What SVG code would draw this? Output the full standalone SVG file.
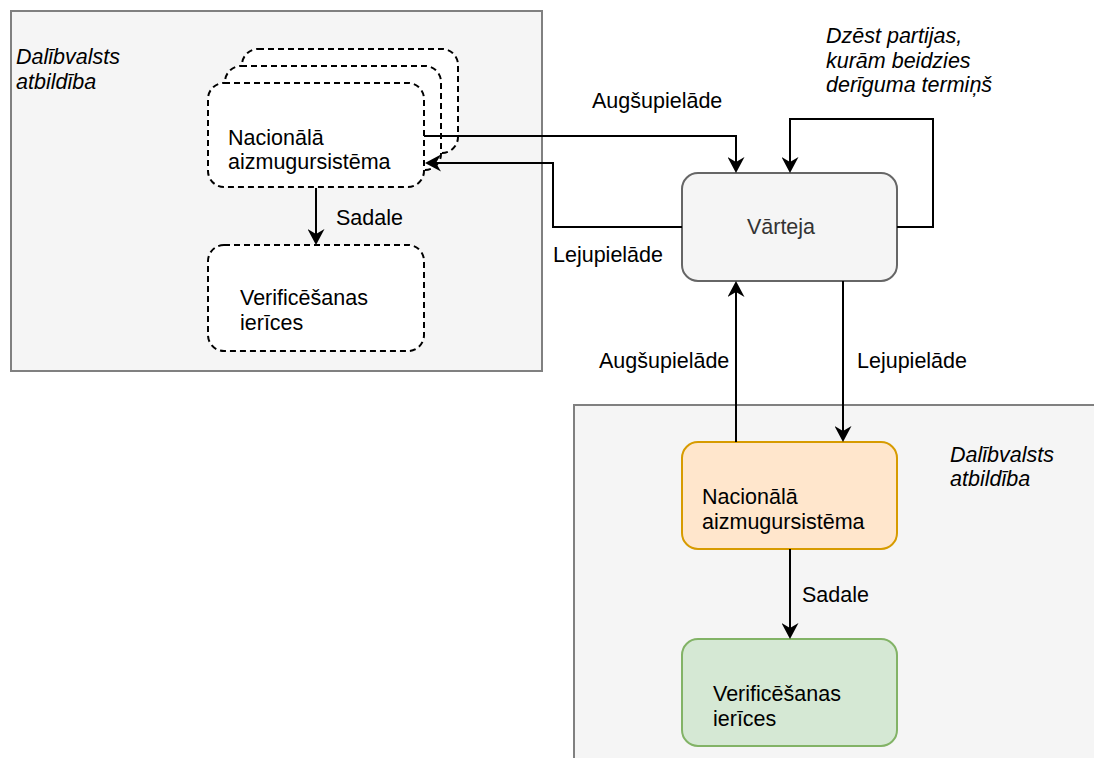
<svg xmlns="http://www.w3.org/2000/svg" width="1094" height="758" viewBox="0 0 1094 758">
  <style>
    text { font-family: "Liberation Sans", Arial, sans-serif; font-size: 21.5px; fill: #000000; }
    .it { font-style: italic; }
    .container { fill: #f5f5f5; stroke: #808080; stroke-width: 2; }
    .dashed { fill: #ffffff; stroke: #000000; stroke-width: 2; stroke-dasharray: 6 4; }
    .gateway { fill: #f5f5f5; stroke: #666666; stroke-width: 2; }
    .backend { fill: #ffe6cc; stroke: #d79b00; stroke-width: 2; }
    .devices { fill: #d5e8d4; stroke: #82b366; stroke-width: 2; }
    .edge { fill: none; stroke: #000000; stroke-width: 2; marker-end: url(#arrow); }
  </style>
  <defs>
    <marker id="arrow" markerUnits="userSpaceOnUse" markerWidth="16" markerHeight="17" viewBox="0 0 16 17" refX="11" refY="8.5" orient="auto">
      <path d="M0,0 L16,8.5 L0,17 L5,8.5 Z" fill="#000000"/>
    </marker>
  </defs>

  <rect width="1094" height="758" fill="#ffffff"/>

  <!-- Member state area, upper left -->
  <g id="ms-left">
    <rect class="container" x="11" y="11" width="531" height="360"/>
    <text class="it" x="16" y="64">Dalībvalsts</text>
    <text class="it" x="16" y="89">atbildība</text>
  </g>

  <!-- Member state area, lower right -->
  <g id="ms-right">
    <rect class="container" x="574" y="405" width="540" height="370"/>
    <text class="it" x="950" y="462">Dalībvalsts</text>
    <text class="it" x="950" y="486">atbildība</text>
  </g>

  <!-- Stack of national backends -->
  <g id="backend-stack">
    <rect class="dashed" x="242" y="49" width="216" height="104" rx="16"/>
    <rect class="dashed" x="225" y="66" width="216" height="104" rx="16"/>
    <rect class="dashed" x="208" y="83" width="216" height="104" rx="16"/>
    <text x="228" y="145">Nacionālā</text>
    <text x="228" y="169">aizmugursistēma</text>
  </g>

  <g id="devices-left">
    <rect class="dashed" x="208" y="245" width="216" height="106" rx="16"/>
    <text x="240" y="305">Verificēšanas</text>
    <text x="240" y="330">ierīces</text>
  </g>

  <g id="gateway">
    <rect class="gateway" x="682" y="173" width="215" height="108" rx="16"/>
    <text x="781" y="234" text-anchor="middle" style="fill:#333333">Vārteja</text>
  </g>

  <g id="backend-right">
    <rect class="backend" x="682" y="442" width="215" height="107" rx="16"/>
    <text x="702" y="504">Nacionālā</text>
    <text x="702" y="529">aizmugursistēma</text>
  </g>

  <g id="devices-right">
    <rect class="devices" x="682" y="639" width="215" height="107" rx="16"/>
    <text x="713" y="701">Verificēšanas</text>
    <text x="713" y="726">ierīces</text>
  </g>

  <!-- Connectors and their labels -->
  <g id="connectors">
    <path class="edge" d="M424,136 H736 V168"/>
    <path class="edge" d="M682,227 H553 V163 H430"/>
    <path class="edge" d="M897,227 H933 V119 H790 V168"/>
    <path class="edge" d="M736,442 V286"/>
    <path class="edge" d="M843,281 V437"/>
    <path class="edge" d="M316,188 V240"/>
    <path class="edge" d="M790,549 V634"/>

    <text x="592" y="108">Augšupielāde</text>
    <text x="553" y="262">Lejupielāde</text>
    <text class="it" x="826" y="43">Dzēst partijas,</text>
    <text class="it" x="826" y="68">kurām beidzies</text>
    <text class="it" x="826" y="92">derīguma termiņš</text>
    <text x="599" y="368">Augšupielāde</text>
    <text x="857" y="368">Lejupielāde</text>
    <text x="336" y="225">Sadale</text>
    <text x="802" y="602">Sadale</text>
  </g>
</svg>
